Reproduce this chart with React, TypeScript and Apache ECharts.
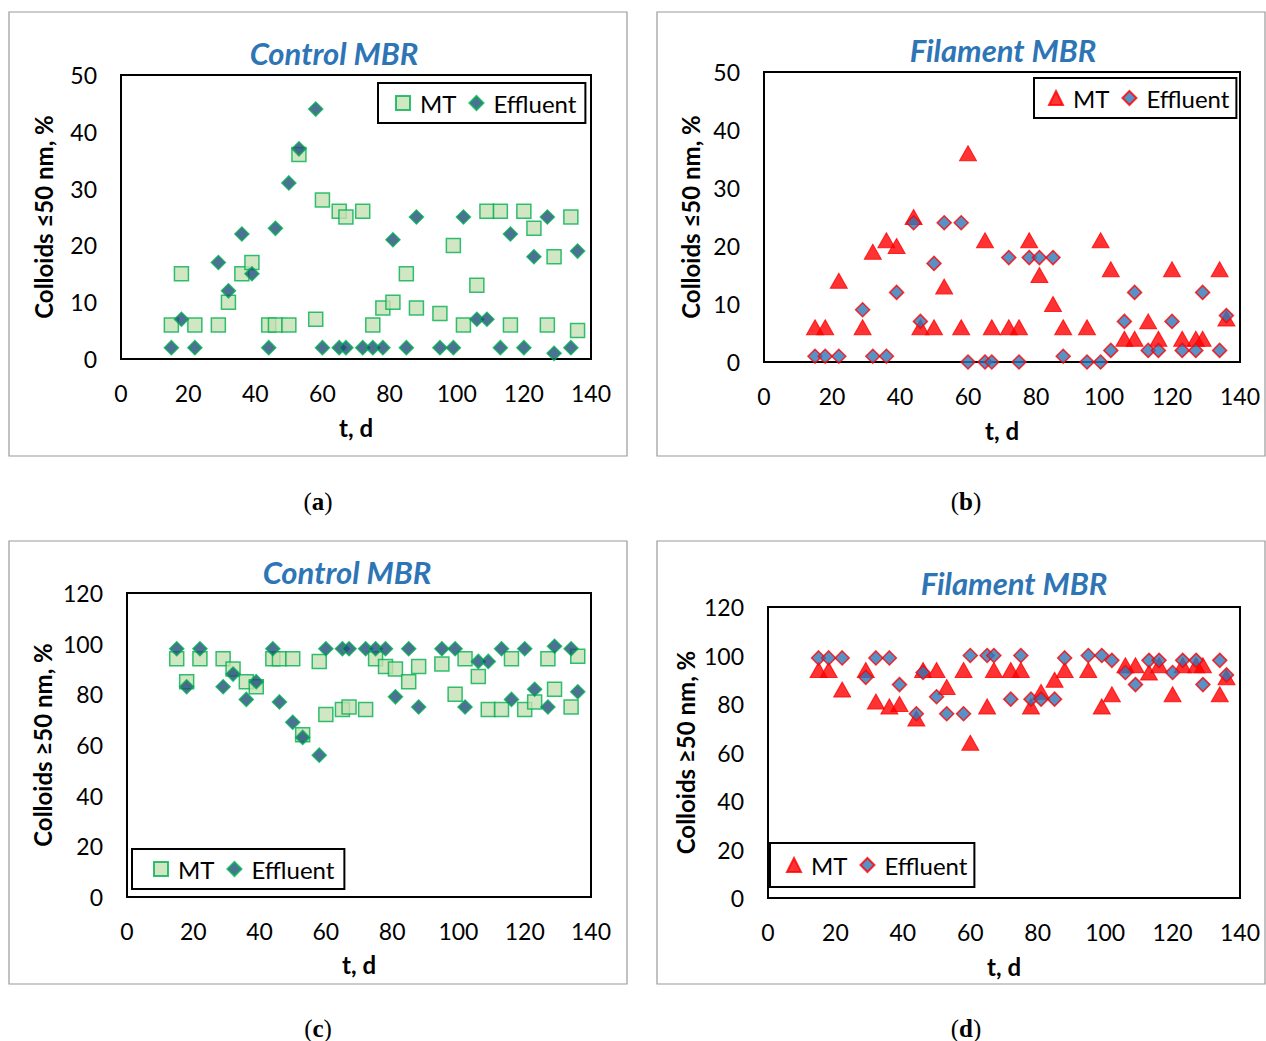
import React, { useEffect, useRef } from "react";
import * as echarts from "echarts";

// ---- data ----
const days = [15, 18, 22, 29, 32, 36, 39, 44, 46, 50, 53, 58, 60, 65, 67, 72, 75, 78, 81, 85, 88, 95, 99, 102, 106, 109, 113, 116, 120, 123, 127, 129, 134, 136];

const controlSmallMT = [6, 15, 6, 6, 10, 15, 17, 6, 6, 6, 36, 7, 28, 26, 25, 26, 6, 9, 10, 15, 9, 8, 20, 6, 13, 26, 26, 6, 26, 23, 6, 18, 25, 5];
const controlSmallEff = [2, 7, 2, 17, 12, 22, 15, 2, 23, 31, 37, 44, 2, 2, 2, 2, 2, 2, 21, 2, 25, 2, 2, 25, 7, 7, 2, 22, 2, 18, 25, 1, 2, 19];

const filamentSmallMT = [6, 6, 14, 6, 19, 21, 20, 25, 6, 6, 13, 6, 36, 21, 6, 6, 6, 21, 15, 10, 6, 6, 21, 16, 4, 4, 7, 4, 16, 4, 4, 4, 16, 7.5];
const filamentSmallEff = [1, 1, 1, 9, 1, 1, 12, 24, 7, 17, 24, 24, 0, 0, 0, 18, 0, 18, 18, 18, 1, 0, 0, 2, 7, 12, 2, 2, 7, 2, 2, 12, 2, 8];

const controlLargeMT = [94, 85, 94, 94, 90, 85, 83, 94, 94, 94, 64, 93, 72, 74, 75, 74, 94, 91, 90, 85, 91, 92, 80, 94, 87, 74, 74, 94, 74, 77, 94, 82, 75, 95];
const controlLargeEff = [98, 83, 98, 83, 88, 78, 85, 98, 77, 69, 63, 56, 98, 98, 98, 98, 98, 98, 79, 98, 75, 98, 98, 75, 93, 93, 98, 78, 98, 82, 75, 99, 98, 81];

const filamentLargeMT = [94, 94, 86, 94, 81, 79, 80, 74, 94, 94, 87, 94, 64, 79, 94, 94, 94, 79, 85, 90, 94, 94, 79, 84, 96, 96, 93, 96, 84, 96, 96, 96, 84, 91];
const filamentLargeEff = [99, 99, 99, 91, 99, 99, 88, 76, 93, 83, 76, 76, 100, 100, 100, 82, 100, 82, 82, 82, 99, 100, 100, 98, 93, 88, 98, 98, 93, 98, 98, 88, 98, 92];

const panelTitles = ["Control MBR", "Filament MBR", "Control MBR", "Filament MBR"];
const panelLetters = ["a", "b", "c", "d"];
const yNames = ["Colloids \u226450 nm, %", "Colloids \u226450 nm, %", "Colloids \u226550 nm, %", "Colloids \u226550 nm, %"];
const xName = "t, d";
const seriesNames = ["MT", "Effluent"];

const FONT = "Lato, 'Open Sans', sans-serif";
const SERIF = "'Liberation Serif', 'DejaVu Serif', serif";

// layout per panel
const panels = [
  {
    grid: { left: 121, top: 75, width: 470, height: 284 },
    box: [9, 12, 618, 444],
    title: [334, 53],
    letter: [318, 501],
    yMax: 50, yInt: 10, yNameGap: 66, xNameGap: 56,
    legend: { left: 378, top: 83 }, lpad: [8, 9, 8, 17],
    mt: controlSmallMT, eff: controlSmallEff, kind: "control",
  },
  {
    grid: { left: 764, top: 72, width: 476, height: 290 },
    box: [657, 12, 608, 444],
    title: [1003, 50],
    letter: [966, 501],
    yMax: 50, yInt: 10, yNameGap: 62, xNameGap: 56,
    legend: { left: 1034, top: 78 }, lpad: [8, 7, 8, 14],
    mt: filamentSmallMT, eff: filamentSmallEff, kind: "filament",
  },
  {
    grid: { left: 127, top: 593, width: 464, height: 304 },
    box: [9, 541, 618, 443],
    title: [347, 572],
    letter: [318, 1028],
    yMax: 120, yInt: 20, yNameGap: 73, xNameGap: 55,
    legend: { left: 132, top: 849 }, lpad: [8, 10, 8, 21],
    mt: controlLargeMT, eff: controlLargeEff, kind: "control",
  },
  {
    grid: { left: 768, top: 607, width: 472, height: 291 },
    box: [657, 541, 608, 443],
    title: [1014, 583],
    letter: [966, 1028],
    yMax: 120, yInt: 20, yNameGap: 71, xNameGap: 56,
    legend: { left: 770, top: 843 }, lpad: [10, 7, 10, 16],
    mt: filamentLargeMT, eff: filamentLargeEff, kind: "filament",
  },
];

function styleFor(kind: string, which: "mt" | "eff") {
  if (kind === "control") {
    if (which === "mt")
      return { symbol: "rect", symbolSize: 14, itemStyle: { color: "#C5E0B4", borderColor: "#00B050", borderWidth: 1.5 } };
    return { symbol: "diamond", symbolSize: 14, itemStyle: { color: "#1F4E79", borderColor: "#00B050", borderWidth: 1.5 } };
  }
  if (which === "mt")
    return { symbol: "triangle", symbolSize: [17, 15], itemStyle: { color: "#FF0000", borderColor: "#FF0000", borderWidth: 1 } };
  return { symbol: "diamond", symbolSize: 14, itemStyle: { color: "#2E75B6", borderColor: "#FF0000", borderWidth: 1.5 } };
}

function buildOption() {
  const grid: any[] = [];
  const xAxis: any[] = [];
  const yAxis: any[] = [];
  const series: any[] = [];
  const legend: any[] = [];
  const graphic: any[] = [];

  panels.forEach((p, i) => {
    grid.push({ ...p.grid, show: true, borderColor: "#000", borderWidth: 2, backgroundColor: "#fff", z: 1 });
    xAxis.push({
      type: "value", gridIndex: i, min: 0, max: 140, interval: 20,
      name: xName, nameLocation: "middle", nameGap: p.xNameGap,
      nameTextStyle: { fontFamily: FONT, fontWeight: "bold", fontSize: 24, color: "#000" },
      axisLine: { show: false }, axisTick: { show: false },
      axisLabel: { fontFamily: FONT, fontSize: 23, color: "#000", margin: 22 },
      splitLine: { show: true, showMinLine: false, showMaxLine: false, lineStyle: { color: "#8a8a8a", type: [5, 4], width: 1.2 } },
    });
    yAxis.push({
      type: "value", gridIndex: i, min: 0, max: p.yMax, interval: p.yInt,
      name: yNames[i], nameLocation: "middle", nameGap: p.yNameGap, nameRotate: 90,
      nameTextStyle: { fontFamily: FONT, fontWeight: "bold", fontSize: 24, color: "#000" },
      axisLine: { show: false }, axisTick: { show: false },
      axisLabel: { fontFamily: FONT, fontSize: 23, color: "#000", margin: 24 },
      splitLine: { show: true, showMinLine: false, showMaxLine: false, lineStyle: { color: "#8a8a8a", type: [5, 4], width: 1.2 } },
    });
    const mtName = seriesNames[0] + "_" + panelLetters[i];
    const effName = seriesNames[1] + "_" + panelLetters[i];
    series.push({
      type: "scatter", name: mtName, xAxisIndex: i, yAxisIndex: i,
      data: days.map((d, k) => [d, p.mt[k]]), ...styleFor(p.kind, "mt"), z: 3,
    });
    series.push({
      type: "scatter", name: effName, xAxisIndex: i, yAxisIndex: i,
      data: days.map((d, k) => [d, p.eff[k]]), ...styleFor(p.kind, "eff"), z: 4,
    });
    legend.push({
      data: [mtName, effName], left: p.legend.left, top: p.legend.top, orient: "horizontal",
      backgroundColor: "#fff", borderColor: "#000", borderWidth: 2, borderRadius: 0,
      padding: p.lpad, itemGap: 12, itemWidth: 14, itemHeight: 14,
      formatter: (n: string) => n.split("_")[0],
      textStyle: { fontFamily: FONT, fontSize: 24, color: "#000", padding: [0, 0, 0, 5] },
      selectedMode: false, z: 10,
    });
    graphic.push({
      type: "rect", shape: { x: p.box[0], y: p.box[1], width: p.box[2], height: p.box[3] },
      style: { fill: "none", stroke: "#9a9a9a", lineWidth: 1.2 }, z: 0, silent: true,
    });
    graphic.push({
      type: "text", x: p.title[0], y: p.title[1],
      style: { text: panelTitles[i], fill: "#2E75B6", font: `italic bold 31px ${FONT}`, align: "center", verticalAlign: "middle" },
      z: 10,
    });
    graphic.push({
      type: "text", x: p.letter[0], y: p.letter[1],
      style: {
        text: `{n|(}{b|${panelLetters[i]}}{n|)}`, align: "center", verticalAlign: "middle",
        rich: {
          n: { fontFamily: SERIF, fontSize: 25, fill: "#000" },
          b: { fontFamily: SERIF, fontSize: 25, fontWeight: "bold", fill: "#000" },
        },
      },
      z: 10,
    });
  });

  return { animation: false, backgroundColor: "#fff", grid, xAxis, yAxis, series, legend, graphic };
}

export default function App() {
  const ref = useRef<HTMLDivElement>(null);
  useEffect(() => {
    if (!ref.current) return;
    const chart = echarts.init(ref.current, undefined, { renderer: "svg" });
    chart.setOption(buildOption() as any);
    return () => chart.dispose();
  }, []);
  return <div ref={ref} style={{ position: "absolute", left: 0, top: 0, width: 1266, height: 1041, background: "#fff" }} />;
}
